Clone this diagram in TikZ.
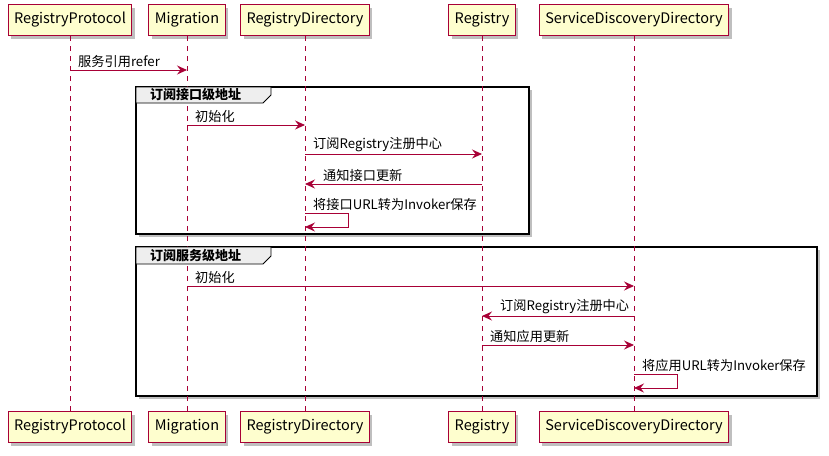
\documentclass[tikz,border=0pt]{standalone}
\usepackage{fontspec}
\setmainfont{Noto Sans CJK SC}
\usetikzlibrary{arrows.meta,shadows}
\definecolor{umlred}{HTML}{A80036}
\definecolor{umlfill}{HTML}{FEFECE}
\definecolor{tabfill}{HTML}{EEEEEE}
\tikzset{
  part/.style={draw=umlred, fill=umlfill, line width=1pt, minimum height=31pt, inner xsep=6pt,
    font=\fontsize{14.5}{16}\selectfont,
    drop shadow={shadow xshift=3pt, shadow yshift=-3pt, fill=black, opacity=0.25}},
  life/.style={draw=umlred, line width=0.8pt, dash pattern=on 5pt off 5pt},
  msg/.style={draw=umlred, line width=0.9pt, -{Stealth[length=10pt,width=9pt,inset=3.5pt]}},
  lbl/.style={anchor=south west, inner sep=0pt, font=\fontsize{13.2}{15}\selectfont},
  frm/.style={draw=black, line width=1.6pt,
    drop shadow={shadow xshift=3pt, shadow yshift=-3pt, fill=black, opacity=0.25}},
  tabbox/.style={draw=black, line width=0.9pt, fill=tabfill},
  tabtxt/.style={anchor=west, inner sep=0pt, font=\bfseries\fontsize{13}{15}\selectfont}
}
\begin{document}
\begin{tikzpicture}[x=1pt,y=-1pt]
\useasboundingbox[fill=white] (0,0) rectangle (829,455);
% frames (transparent body) drawn first
\draw[frm] (136,87) rectangle (529,234);
\draw[frm] (136,247) rectangle (817,396);
\fill[white] (136,87) rectangle (529,234);
\fill[white] (136,247) rectangle (817,396);
\draw[draw=black, line width=1.6pt] (136,87) rectangle (529,234);
\draw[draw=black, line width=1.6pt] (136,247) rectangle (817,396);
% participants
\node[part] (tRP) at (70,20) {RegistryProtocol};
\node[part] (tMI) at (187,20) {Migration};
\node[part] (tRD) at (305,20) {RegistryDirectory};
\node[part] (tRE) at (482,20) {Registry};
\node[part] (tSD) at (634,20) {ServiceDiscoveryDirectory};
\node[part] (bRP) at (70,427) {RegistryProtocol};
\node[part] (bMI) at (187,427) {Migration};
\node[part] (bRD) at (305,427) {RegistryDirectory};
\node[part] (bRE) at (482,427) {Registry};
\node[part] (bSD) at (634,427) {ServiceDiscoveryDirectory};
% lifelines
\draw[life] (tRP.south) -- (bRP.north);
\draw[life] (tMI.south) -- (bMI.north);
\draw[life] (tRD.south) -- (bRD.north);
\draw[life] (tRE.south) -- (bRE.north);
\draw[life] (tSD.south) -- (bSD.north);
% frame tabs
\draw[tabbox] (136,87) -- (271,87) -- (271,95) -- (263,103) -- (136,103) -- cycle;
\node[tabtxt] (t1) at (150,95) {订阅接口级地址};
\draw[tabbox] (136,247) -- (271,247) -- (271,256) -- (263,264) -- (136,264) -- cycle;
\node[tabtxt] (t2) at (150,255.5) {订阅服务级地址};
% message end points on lifelines
\coordinate (m1a) at (tRP |- 0,70);  \coordinate (m1b) at (tMI |- 0,70);
\coordinate (m2a) at (tMI |- 0,125); \coordinate (m2b) at (tRD |- 0,125);
\coordinate (m3a) at (tRD |- 0,154); \coordinate (m3b) at (tRE |- 0,154);
\coordinate (m4a) at (tRE |- 0,184); \coordinate (m4b) at (tRD |- 0,184);
\coordinate (s1a) at (tRD |- 0,213); \coordinate (s1b) at (348,213);
\coordinate (s1c) at (348,227);      \coordinate (s1d) at (tRD |- 0,227);
\coordinate (m5a) at (tMI |- 0,286); \coordinate (m5b) at (tSD |- 0,286);
\coordinate (m6a) at (tSD |- 0,316); \coordinate (m6b) at (tRE |- 0,316);
\coordinate (m7a) at (tRE |- 0,345); \coordinate (m7b) at (tSD |- 0,345);
\coordinate (s2a) at (tSD |- 0,374); \coordinate (s2b) at (677,374);
\coordinate (s2c) at (677,388);      \coordinate (s2d) at (tSD |- 0,388);
% messages
\draw[msg] (m1a) -- (m1b);
\node[lbl] (l1) at ([shift={(8,-2)}]m1a) {服务引用refer};
\draw[msg] (m2a) -- (m2b);
\node[lbl] (l2) at ([shift={(8,-2)}]m2a) {初始化};
\draw[msg] (m3a) -- (m3b);
\node[lbl] (l3) at ([shift={(8,-2)}]m3a) {订阅Registry注册中心};
\draw[msg] (m4a) -- (m4b);
\node[lbl] (l4) at ([shift={(18,-2)}]m4b) {通知接口更新};
\draw[msg] (s1a) -- (s1b) -- (s1c) -- (s1d);
\node[lbl] (l5) at ([shift={(8,-2)}]s1a) {将接口URL转为Invoker保存};
\draw[msg] (m5a) -- (m5b);
\node[lbl] (l6) at ([shift={(8,-2)}]m5a) {初始化};
\draw[msg] (m6a) -- (m6b);
\node[lbl] (l7) at ([shift={(18,-2)}]m6b) {订阅Registry注册中心};
\draw[msg] (m7a) -- (m7b);
\node[lbl] (l8) at ([shift={(8,-2)}]m7a) {通知应用更新};
\draw[msg] (s2a) -- (s2b) -- (s2c) -- (s2d);
\node[lbl] (l9) at ([shift={(8,-2)}]s2a) {将应用URL转为Invoker保存};
\end{tikzpicture}
\end{document}
